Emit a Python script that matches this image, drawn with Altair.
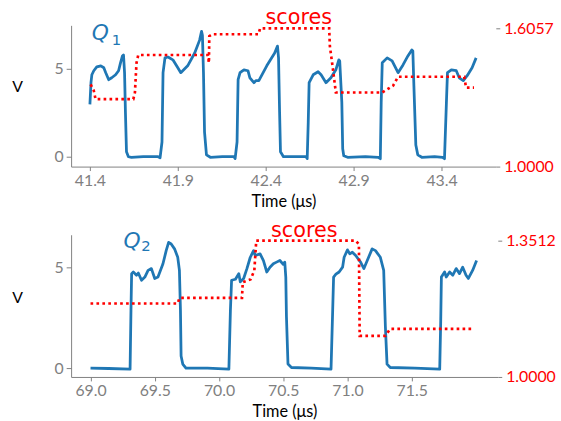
import altair as alt
import pandas as pd

# ---------------- data ----------------
# top panel voltage trace (Time in us, V)
t1 = [41.400,41.406,41.411,41.422,41.439,41.462,41.479,41.490,41.507,41.524,41.546,41.563,41.574,41.585,41.591,41.597,41.602,41.608,41.619,41.636,41.703,41.788,41.799,
      41.810,41.816,41.827,41.844,41.872,41.900,41.917,41.928,41.956,41.996,42.024,42.035,42.040,42.046,42.052,42.063,42.085,42.153,42.220,42.226,
      42.237,42.243,42.254,42.276,42.299,42.310,42.333,42.344,42.361,42.406,42.451,42.467,42.473,42.479,42.484,42.501,42.574,42.630,42.636,
      42.642,42.647,42.670,42.698,42.715,42.743,42.771,42.799,42.816,42.821,42.833,42.838,42.844,42.866,42.967,43.040,43.052,
      43.057,43.063,43.091,43.119,43.153,43.181,43.209,43.231,43.237,43.243,43.254,43.265,43.288,43.361,43.406,43.417,
      43.428,43.434,43.456,43.484,43.501,43.524,43.546,43.574,43.597]
v1 = [2.98,4.21,4.66,4.89,5.11,5.17,5.06,4.78,4.38,4.49,4.66,4.89,5.34,5.73,5.79,4.78,2.53,0.28,0.00,-0.03,0.00,0.00,-0.06,
      0.84,4.78,5.62,5.67,5.51,5.06,4.78,4.89,5.17,5.90,6.63,7.13,6.91,4.78,1.40,0.11,-0.03,0.00,0.00,-0.11,
      0.84,4.38,4.78,4.94,4.89,4.49,4.21,4.33,4.33,5.17,5.90,6.29,5.62,2.53,0.28,0.00,0.00,0.00,-0.11,
      1.97,4.21,4.66,4.83,4.66,4.21,4.49,4.94,5.51,5.45,3.09,0.45,0.06,-0.03,0.00,-0.03,-0.11,
      3.09,5.34,5.62,5.45,4.78,5.22,5.73,6.07,6.01,4.04,0.67,0.11,-0.03,0.00,-0.03,-0.11,
      3.09,4.78,4.94,4.89,4.49,4.33,4.61,5.06,5.62]
# top panel scores
ts1 = [41.404,41.422,41.432,41.647,41.656,41.665,41.675,42.071,42.077,42.079,42.097,42.359,42.368,42.761,42.765,42.780,42.799,43.063,43.125,43.153,43.529,43.540,43.585]
sv1 = [1.360,1.333,1.2955,1.2955,1.3245,1.4543,1.4889,1.4889,1.4543,1.5711,1.5797,1.5797,1.6057,1.6057,1.5278,1.4413,1.3245,1.3245,1.3547,1.3937,1.3937,1.3461,1.3461]

# bottom panel voltage trace
t2 = [69.000,69.141,69.308,69.315,69.320,69.333,69.358,69.372,69.397,69.423,69.448,69.474,69.500,69.525,69.564,69.589,69.608,69.628,69.654,69.679,69.692,69.700,69.705,69.718,69.743,69.910,70.077,
      70.089,70.098,70.128,70.154,70.166,70.192,70.218,70.243,70.269,70.282,70.320,70.346,70.372,70.397,70.423,70.448,70.474,70.500,70.512,70.520,70.525,70.537,70.564,70.718,70.872,
      70.885,70.892,70.910,70.935,70.962,70.974,71.000,71.018,71.038,71.064,71.102,71.128,71.154,71.192,71.218,71.256,71.282,71.295,71.308,71.333,71.525,71.718,
      71.726,71.731,71.756,71.769,71.795,71.820,71.846,71.872,71.897,71.923,71.941,71.974,72.005]
v2 = [0.00,-0.02,-0.05,2.89,4.69,4.77,4.61,4.72,4.36,4.52,4.85,4.94,4.45,4.52,5.18,5.83,6.24,6.16,5.92,5.50,4.85,2.89,0.60,0.20,0.00,0.00,-0.05,
      2.89,4.36,4.41,4.69,4.28,4.45,4.95,5.49,5.83,5.59,5.67,5.34,4.77,5.01,5.18,5.26,5.34,5.15,5.26,4.52,2.56,0.20,0.03,0.00,-0.05,
      2.89,4.52,4.66,4.77,5.01,5.50,5.87,5.67,5.75,5.59,5.26,4.94,5.34,5.92,5.83,5.50,4.85,2.07,0.20,0.03,0.00,-0.05,
      2.40,4.52,4.77,4.52,4.77,4.61,4.94,4.69,5.01,4.61,4.45,4.85,5.34]
# bottom panel scores
ts2 = [69.000,69.679,69.692,70.179,70.185,70.245,70.275,70.290,71.064,71.089,71.095,71.295,71.333,71.974]
sv2 = [1.1893,1.1893,1.2036,1.2036,1.2443,1.2512,1.2741,1.3512,1.3512,1.3420,1.1061,1.1061,1.1239,1.1239]

xticks1 = [41.4, 41.9, 42.4, 42.9, 43.4]
xticks2 = [69.0, 69.5, 70.0, 70.5, 71.0, 71.5]
yticks = [0, 5]
sticks1 = [1.0, 1.6057]
sticks2 = [1.0, 1.3512]

BLUE = "#1f77b4"
RED = "#ff0000"
GRAY = "#808080"
FONT = "Lato"


def panel(t, v, ts, sv, xdom, ydom, sdom, xticks, sticks,
          q_pos, sub_pos, sub_txt, sc_pos, width, height, title_y):
    xs = alt.Scale(domain=xdom, nice=False, zero=False)
    xax = alt.Axis(values=xticks, format=".1f", title="Time (μs)", grid=False,
                   labelColor=GRAY, labelFont=FONT, labelFontSize=16,
                   tickColor=GRAY, domainColor=GRAY, tickSize=4, labelPadding=2,
                   titleFont=FONT, titleFontSize=16.5, titleFontWeight="normal",
                   titleColor="black", titlePadding=5)
    ys = alt.Scale(domain=ydom, nice=False, zero=False)
    yax = alt.Axis(values=yticks, grid=False, orient="left", title="V",
                   labelColor=GRAY, labelFont=FONT, labelFontSize=16,
                   tickColor=GRAY, domainColor=GRAY, tickSize=5, labelPadding=3,
                   titleAngle=0, titleFont=FONT, titleFontSize=16,
                   titleFontWeight="normal", titleColor="black",
                   titleAlign="left", titleBaseline="middle",
                   titleX=-60, titleY=title_y)
    ss = alt.Scale(domain=sdom, nice=False, zero=False)
    sax = alt.Axis(values=sticks, format=".4f", grid=False, orient="right",
                   title=None, domain=False, labelColor=RED, labelFont=FONT,
                   labelFontSize=16, tickColor=GRAY, tickSize=4, labelPadding=4)

    d_line = pd.DataFrame({"t": t, "v": v, "i": range(len(t))})
    d_sc = pd.DataFrame({"t": ts, "s": sv, "i": range(len(ts))})

    blue = alt.Chart(d_line).mark_line(color=BLUE, strokeWidth=2.8, strokeJoin="round").encode(
        x=alt.X("t:Q", scale=xs, axis=xax),
        y=alt.Y("v:Q", scale=ys, axis=yax),
        order="i:Q")
    red = alt.Chart(d_sc).mark_line(color=RED, strokeWidth=2.7, strokeDash=[2.7, 3.3],
                                    strokeCap="butt").encode(
        x=alt.X("t:Q", scale=xs),
        y=alt.Y("s:Q", scale=ss, axis=sax),
        order="i:Q")

    def txt(pos, label, size, color, style, font, align):
        d = pd.DataFrame({"t": [pos[0]], "v": [pos[1]], "lab": [label]})
        return alt.Chart(d).mark_text(fontSize=size, color=color, fontStyle=style,
                                      font=font, align=align, baseline="alphabetic").encode(
            x=alt.X("t:Q", scale=xs),
            y=alt.Y("v:Q", scale=ys, axis=None),
            text="lab:N")

    q = txt(q_pos, "Q", 22, BLUE, "italic", "DejaVu Sans", "left")
    sub = txt(sub_pos, sub_txt, 15, BLUE, "normal", "DejaVu Sans", "left")
    sc = txt(sc_pos, "scores", 21, RED, "normal", "DejaVu Sans", "center")

    return alt.layer(blue, red, q, sub, sc).resolve_scale(y="independent").properties(
        width=width, height=height)


top = panel(t1, v1, ts1, sv1, [41.293, 43.709], [-0.56, 7.47], [1.0, 1.6187],
            xticks1, sticks1, (41.411, 6.63), (41.524, 6.35), "1", (42.588, 7.545),
            430, 143, 62)
bottom = panel(t2, v2, ts2, sv2, [68.849, 72.17], [-0.44, 6.62], [1.0, 1.3665],
               xticks2, sticks2, (69.256, 5.98), (69.395, 5.83), "2", (70.664, 6.50),
               432, 144, 64)

chart = alt.vconcat(top, bottom, spacing=69, bounds="flush").properties(
    padding={"left": 12, "top": 4, "right": 5, "bottom": 5}
).configure_view(stroke=None)

chart.save("out.html", embed_options={"renderer": "svg", "actions": False})
